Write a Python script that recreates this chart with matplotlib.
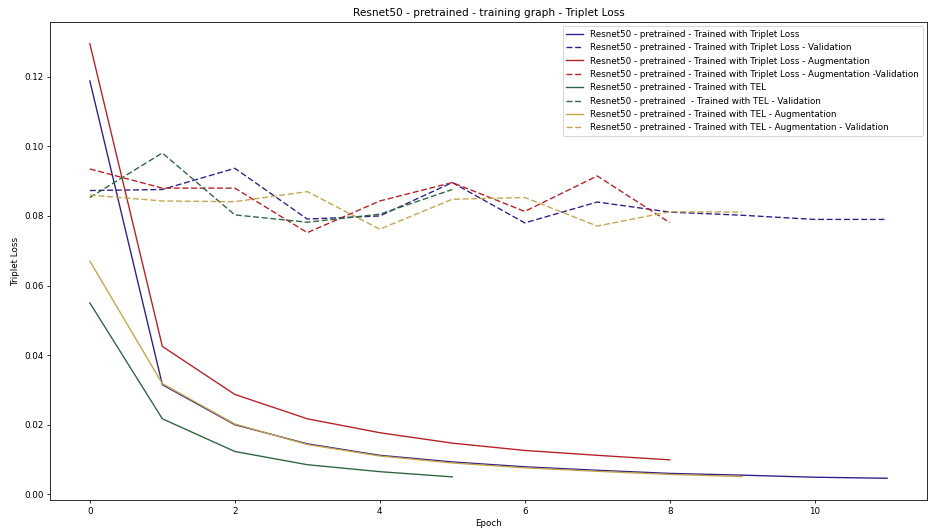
import matplotlib
matplotlib.use("Agg")
import matplotlib.pyplot as plt
import numpy as np

# loss per epoch for each run
triplet_train = [0.1188, 0.0315, 0.0200, 0.0145, 0.0112, 0.0093, 0.0079, 0.0069, 0.0060, 0.0055, 0.0049, 0.0046]
triplet_val = [0.0873, 0.0876, 0.0937, 0.0791, 0.0800, 0.0896, 0.0780, 0.0840, 0.0811, 0.0802, 0.0790, 0.0790]
triplet_aug_train = [0.1295, 0.0425, 0.0287, 0.0217, 0.0177, 0.0147, 0.0126, 0.0112, 0.0099]
triplet_aug_val = [0.0935, 0.0880, 0.0880, 0.0752, 0.0843, 0.0896, 0.0813, 0.0915, 0.0781]
tel_train = [0.0550, 0.0217, 0.0123, 0.0085, 0.0065, 0.0050]
tel_val = [0.0853, 0.0981, 0.0803, 0.0782, 0.0805, 0.0876]
tel_aug_train = [0.0670, 0.0318, 0.0202, 0.0143, 0.0110, 0.0090, 0.0076, 0.0066, 0.0057, 0.0051]
tel_aug_val = [0.0860, 0.0843, 0.0841, 0.0870, 0.0762, 0.0848, 0.0853, 0.0771, 0.0812, 0.0811]

NAVY = "#2d1f86"
RED = "#b51f24"
GREEN = "#2b6540"
GOLD = "#c6a44d"

plt.rcParams["font.size"] = 8.7
plt.rcParams["lines.linewidth"] = 1.35
plt.rcParams["lines.dashed_pattern"] = [4.4, 2.0]
plt.rcParams["axes.linewidth"] = 0.8
plt.rcParams["xtick.major.size"] = 3.0
plt.rcParams["ytick.major.size"] = 3.0

def main():
    fig = plt.figure(figsize=(929 / 72, 530 / 72), dpi=72)
    ax = fig.add_axes([50 / 929, 30 / 530, 877 / 929, 478 / 530])

    runs = [
        (triplet_train, NAVY, "-", "Resnet50 - pretrained - Trained with Triplet Loss"),
        (triplet_val, NAVY, "--", "Resnet50 - pretrained - Trained with Triplet Loss - Validation"),
        (triplet_aug_train, RED, "-", "Resnet50 - pretrained - Trained with Triplet Loss - Augmentation"),
        (triplet_aug_val, RED, "--", "Resnet50 - pretrained - Trained with Triplet Loss - Augmentation -Validation"),
        (tel_train, GREEN, "-", "Resnet50 - pretrained - Trained with TEL"),
        (tel_val, GREEN, "--", "Resnet50 - pretrained  - Trained with TEL - Validation"),
        (tel_aug_train, GOLD, "-", "Resnet50 - pretrained - Trained with TEL - Augmentation"),
        (tel_aug_val, GOLD, "--", "Resnet50 - pretrained - Trained with TEL - Augmentation - Validation"),
    ]
    for values, color, style, label in runs:
        ax.plot(np.arange(len(values)), values, color=color, linestyle=style, label=label)

    ax.set_title("Resnet50 - pretrained - training graph - Triplet Loss")
    ax.set_xlabel("Epoch")
    ax.set_ylabel("Triplet Loss")
    ax.legend(loc="upper right")

    fig.savefig("out.png", dpi=72)

if __name__ == "__main__":
    main()
